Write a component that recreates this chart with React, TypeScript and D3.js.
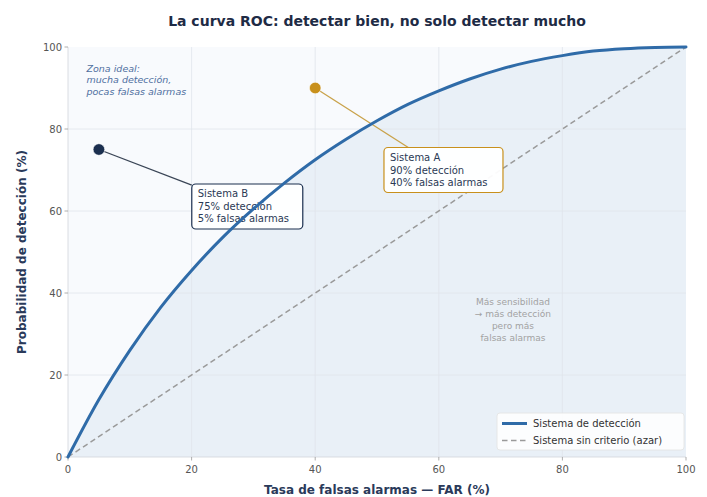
import React from "react";
import * as d3 from "d3";

const farValues = [0, 5, 10, 15, 20, 25, 30, 35, 40, 45, 50, 55, 60, 65, 70, 75, 80, 85, 90, 95, 100];
const podValues = [0, 14, 26, 36.5, 45.5, 53.5, 60.5, 66.8, 72.5, 77.5, 82, 86, 89.3, 92.2, 94.6, 96.5, 97.9, 99, 99.6, 99.9, 100];
const chanceLine = [0, 100];
const xTicks = [0, 20, 40, 60, 80, 100];
const yTicks = [0, 20, 40, 60, 80, 100];

const systemNames = ["Sistema A", "Sistema B"];
const systemFar = [40, 5];
const systemPod = [90, 75];
const systemLabelX = [52.1, 21.0];
const systemLabelY = [70, 61.1];
const systemColors = ["#c8901c", "#1b2f4f"];
const systemLineColors = ["#c9a24a", "#3a4556"];
const systemBoxW = [119, 111];

const idealText = ["Zona ideal:", "mucha detección,", "pocas falsas alarmas"];
const sensText = ["Más sensibilidad", "→ más detección", "pero más", "falsas alarmas"];
const legendLabels = ["Sistema de detección", "Sistema sin criterio (azar)"];

const W = 707;
const H = 497;
const M = { left: 68, right: 21, top: 47, bottom: 40 };
const FONT = "DejaVu Sans, Verdana, sans-serif";

export default function App() {
  const x = d3.scaleLinear().domain([0, 100]).range([M.left, W - M.right]);
  const y = d3.scaleLinear().domain([0, 100]).range([H - M.bottom, M.top]);
  const pts: [number, number][] = farValues.map((v, i) => [v, podValues[i]]);
  const line = d3.line<[number, number]>().x((d) => x(d[0])).y((d) => y(d[1])).curve(d3.curveMonotoneX);
  const area = d3
    .area<[number, number]>()
    .x((d) => x(d[0]))
    .y0(y(0))
    .y1((d) => y(d[1]))
    .curve(d3.curveMonotoneX);

  const lineH = 12.5;
  const boxH = 45;

  return (
    <svg width={W} height={H} style={{ position: "fixed", left: 0, top: 0, background: "#fff" }} fontFamily={FONT}>
      <rect x={x(0)} y={y(100)} width={x(100) - x(0)} height={y(0) - y(100)} fill="#f8fafd" />
      <path d={area(pts) || ""} fill="#2f6ba8" fillOpacity={0.07} />
      {xTicks.slice(1, -1).map((t) => (
        <line key={"gx" + t} x1={x(t)} x2={x(t)} y1={y(0)} y2={y(100)} stroke="#dfe4eb" strokeWidth={0.8} />
      ))}
      {yTicks.slice(1, -1).map((t) => (
        <line key={"gy" + t} x1={x(0)} x2={x(100)} y1={y(t)} y2={y(t)} stroke="#dfe4eb" strokeWidth={0.8} />
      ))}
      <line x1={x(0)} x2={x(0)} y1={y(0)} y2={y(100)} stroke="#d0d4da" strokeWidth={0.8} />
      <line x1={x(0)} x2={x(100)} y1={y(0)} y2={y(0)} stroke="#d0d4da" strokeWidth={0.8} />
      {xTicks.map((t) => (
        <g key={"tx" + t}>
          <line x1={x(t)} x2={x(t)} y1={y(0)} y2={y(0) + 3.5} stroke="#999" strokeWidth={0.8} />
          <text x={x(t)} y={y(0) + 16} textAnchor="middle" fontSize={10} fill="#555">
            {t}
          </text>
        </g>
      ))}
      {yTicks.map((t) => (
        <g key={"ty" + t}>
          <line x1={x(0) - 3.5} x2={x(0)} y1={y(t)} y2={y(t)} stroke="#999" strokeWidth={0.8} />
          <text x={x(0) - 6} y={y(t) + 3.5} textAnchor="end" fontSize={10} fill="#555">
            {t}
          </text>
        </g>
      ))}
      <line
        x1={x(chanceLine[0])}
        y1={y(chanceLine[0])}
        x2={x(chanceLine[1])}
        y2={y(chanceLine[1])}
        stroke="#9a9a9a"
        strokeWidth={1.5}
        strokeDasharray="5.5,3.5"
      />
      {idealText.map((s, i) => (
        <text key={"id" + i} x={x(3)} y={y(94) + i * 11.5} fontSize={9.5} fontStyle="italic" fill="#4f6f9f">
          {s}
        </text>
      ))}
      {sensText.map((s, i) => (
        <text key={"se" + i} x={x(72)} y={y(37) + i * 12} fontSize={9} textAnchor="middle" fill="#a2a2a2">
          {s}
        </text>
      ))}
      {systemNames.map((name, i) => {
        const px = x(systemFar[i]);
        const py = y(systemPod[i]);
        const bx = x(systemLabelX[i]) - 6;
        const by = y(systemLabelY[i]) - boxH / 2;
        const cx = bx + systemBoxW[i] / 2;
        const cy = by + boxH / 2;
        const dx = cx - px;
        const dy = cy - py;
        const tx = Math.abs(dx) > 0 ? (systemBoxW[i] / 2) / Math.abs(dx) : Infinity;
        const ty = Math.abs(dy) > 0 ? (boxH / 2) / Math.abs(dy) : Infinity;
        const t = 1 - Math.min(tx, ty);
        const ex = px + dx * t;
        const ey = py + dy * t;
        const lines = [name, `${systemPod[i]}% detección`, `${systemFar[i]}% falsas alarmas`];
        return (
          <g key={name}>
            <line x1={px} y1={py} x2={ex} y2={ey} stroke={systemLineColors[i]} strokeWidth={1.3} />
            <rect
              x={bx}
              y={by}
              width={systemBoxW[i]}
              height={boxH}
              rx={4}
              fill="#fff"
              fillOpacity={0.95}
              stroke={systemColors[i]}
              strokeWidth={1.2}
            />
            {lines.map((s, j) => (
              <text key={j} x={bx + 6} y={cy - lineH + 3.5 + j * lineH} fontSize={10} fill="#2b3a55">
                {s}
              </text>
            ))}
          </g>
        );
      })}
      <path d={line(pts) || ""} fill="none" stroke="#2f6ba8" strokeWidth={3} strokeLinecap="round" />
      {systemNames.map((name, i) => (
        <circle key={"c" + name} cx={x(systemFar[i])} cy={y(systemPod[i])} r={5.8} fill={systemColors[i]} stroke="#fff" strokeWidth={0.6} />
      ))}
      <g>
        <rect x={497} y={413} width={187} height={37} rx={3} fill="#fff" fillOpacity={0.85} stroke="#e2e2e2" strokeWidth={0.8} />
        <line x1={502} x2={527} y1={423.5} y2={423.5} stroke="#2f6ba8" strokeWidth={3} />
        <line x1={502} x2={527} y1={440.5} y2={440.5} stroke="#9a9a9a" strokeWidth={1.5} strokeDasharray="5.5,3.5" />
        <text x={533} y={427} fontSize={10} fill="#333">
          {legendLabels[0]}
        </text>
        <text x={533} y={444} fontSize={10} fill="#333">
          {legendLabels[1]}
        </text>
      </g>
      <text x={(x(0) + x(100)) / 2} y={26} textAnchor="middle" fontSize={14} fontWeight="bold" fill="#1e2b45">
        La curva ROC: detectar bien, no solo detectar mucho
      </text>
      <text x={(x(0) + x(100)) / 2} y={494} textAnchor="middle" fontSize={12} fontWeight="bold" fill="#2a3a5a">
        Tasa de falsas alarmas — FAR (%)
      </text>
      <text
        transform={`translate(26,${(y(0) + y(100)) / 2}) rotate(-90)`}
        textAnchor="middle"
        fontSize={12}
        fontWeight="bold"
        fill="#2a3a5a"
      >
        Probabilidad de detección (%)
      </text>
    </svg>
  );
}
